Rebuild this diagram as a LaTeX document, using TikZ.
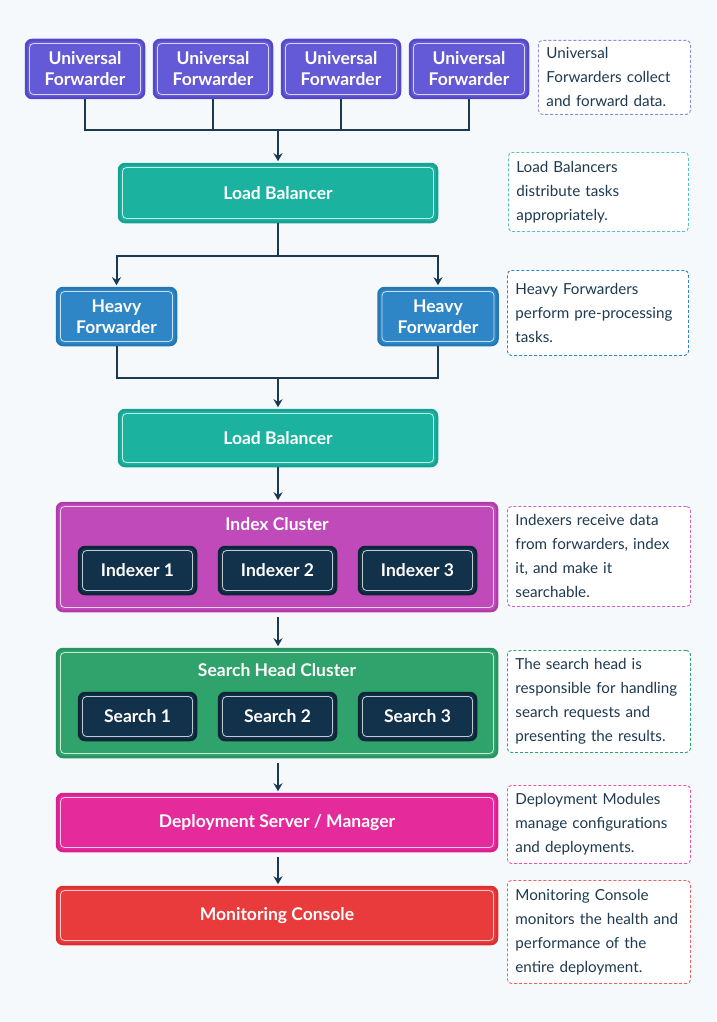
\documentclass[tikz,border=0pt]{standalone}
\usepackage{fontspec}
\setmainfont{Lato}
\usetikzlibrary{arrows.meta,positioning}
\hyphenpenalty=10000
\definecolor{pagebg}{HTML}{F5F9FC}
\definecolor{ink}{HTML}{1B3A52}
\definecolor{notetext}{HTML}{1E3A50}
\definecolor{univ}{HTML}{6459D6}
\definecolor{univline}{HTML}{5447C8}
\definecolor{balance}{HTML}{1BB2A0}
\definecolor{balanceline}{HTML}{15A291}
\definecolor{heavy}{HTML}{2E86C6}
\definecolor{heavyline}{HTML}{2578B6}
\definecolor{index}{HTML}{C04AB9}
\definecolor{indexline}{HTML}{B03CAA}
\definecolor{search}{HTML}{2FA36B}
\definecolor{searchline}{HTML}{26955F}
\definecolor{deploy}{HTML}{E52A9B}
\definecolor{deployline}{HTML}{D8208E}
\definecolor{monitor}{HTML}{E93B3B}
\definecolor{monitorline}{HTML}{DC3030}
\definecolor{worker}{HTML}{12314A}
\definecolor{workerline}{HTML}{0C2537}

\begin{document}
\begin{tikzpicture}[x=1pt, y=-1pt, >=Stealth,
  box/.style={rounded corners=6pt, line width=2.5pt, text=white,
    font=\fontsize{17.5}{21}\selectfont\bfseries, align=center,
    inner sep=0pt, minimum width=#1,
    path picture={\draw[white, opacity=0.75, line width=0.8pt, rounded corners=4pt]
      ([shift={(3.5pt,-3.5pt)}]path picture bounding box.north west) rectangle
      ([shift={(-3.5pt,3.5pt)}]path picture bounding box.south east);}},
  box/.default=118pt,
  note/.style={draw=#1, dash pattern=on 3pt off 2pt, line width=0.9pt, fill=white,
    rounded corners=4pt, text=notetext, align=left, anchor=north west,
    font=\fontsize{15.2}{24}\selectfont, inner xsep=8pt, inner ysep=0pt},
  title/.style={text=white, font=\fontsize{17.5}{21}\selectfont\bfseries},
  link/.style={draw=ink, line width=2pt},
  arrow/.style={link, shorten >=1.5pt, -{Stealth[length=8pt, width=9pt]}}]

  \fill[pagebg] (0,0) rectangle (716,1022);
  \useasboundingbox (0,0) rectangle (716,1022);

  % forwarders
  \foreach \n/\x in {1/85, 2/213, 3/341, 4/469}
    \node[box, fill=univ, draw=univline, minimum height=58pt] (uf\n) at (\x,69) {Universal\\Forwarder};
  \node[note=univ!70, text width=136pt, minimum height=74pt] (n1) at (538,40)
    {Universal\\Forwarders collect\\and forward data.};

  \node[box=318pt, fill=balance, draw=balanceline, minimum height=58pt] (lb1) at (278,193) {Load Balancer};
  \node[note=balance!75, text width=164pt, minimum height=79pt] (n2) at (508,152)
    {Load Balancers\\distribute tasks\\appropriately.};

  \node[box=119pt, fill=heavy, draw=heavyline, minimum height=57pt] (hf1) at (116.5,316.5) {Heavy\\Forwarder};
  \node[box=119pt, fill=heavy, draw=heavyline, minimum height=57pt] (hf2) at (438,316.5) {Heavy\\Forwarder};
  \node[note=heavy, text width=165pt, minimum height=85pt] (n3) at (507,270)
    {Heavy Forwarders\\perform pre-processing\\tasks.};

  \node[box=318pt, fill=balance, draw=balanceline, minimum height=56pt] (lb2) at (278,438) {Load Balancer};

  % clusters
  \node[box=440pt, fill=index, draw=indexline, minimum height=108pt] (idx) at (277,557) {};
  \node[title] (idxtitle) at (277,524) {Index Cluster};
  \foreach \n/\x in {1/137.5, 2/277.5, 3/417.5}
    \node[box=117pt, fill=worker, draw=workerline, minimum height=47pt] (ix\n) at (\x,570.5) {Indexer \n};
  \node[note=index!85, text width=167pt, minimum height=100pt] (n4) at (507,506)
    {Indexers receive data\\from forwarders, index\\it, and make it\\searchable.};

  \node[box=440pt, fill=search, draw=searchline, minimum height=108pt] (sh) at (277,703) {};
  \node[title] (shtitle) at (277,670) {Search Head Cluster};
  \foreach \n/\x in {1/137.5, 2/277.5, 3/417.5}
    \node[box=117pt, fill=worker, draw=workerline, minimum height=47pt] (sr\n) at (\x,716.5) {Search \n};
  \node[note=search, text width=167pt, minimum height=102pt] (n5) at (507,650)
    {The search head is\\responsible for handling\\search requests and\\presenting the results.};

  \node[box=440pt, fill=deploy, draw=deployline, minimum height=57pt] (dep) at (277,822.5) {Deployment Server / Manager};
  \node[note=deploy!80, text width=167pt, minimum height=78pt] (n6) at (507,785)
    {Deployment Modules\\manage configurations\\and deployments.};

  \node[box=440pt, fill=monitor, draw=monitorline, minimum height=57pt] (mc) at (277,915.5) {Monitoring Console};
  \node[note=monitor!80, text width=167pt, minimum height=103pt] (n7) at (507,880)
    {Monitoring Console\\monitors the health and\\performance of the\\entire deployment.};

  % connectors
  \coordinate (join1) at (278,130);
  \coordinate (split1) at (278,256);
  \coordinate (join2) at (278,378);
  \foreach \n in {1,...,4}
    \draw[link] (uf\n.south) |- (join1);
  \draw[arrow] (join1) -- (lb1.north);
  \draw[link] (lb1.south) -- (split1);
  \draw[arrow] (split1) -| (hf1.north);
  \draw[arrow] (split1) -| (hf2.north);
  \draw[link] (hf1.south) |- (join2);
  \draw[link] (hf2.south) |- (join2);
  \draw[arrow] (join2) -- (lb2.north);
  \draw[arrow] (lb2.south) -- (lb2.south |- idx.north);
  \draw[arrow, shorten <=5pt] (lb2.south |- idx.south) -- (lb2.south |- sh.north);
  \draw[arrow, shorten <=5pt] (lb2.south |- sh.south) -- (lb2.south |- dep.north);
  \draw[arrow, shorten <=5pt] (lb2.south |- dep.south) -- (lb2.south |- mc.north);
\end{tikzpicture}
\end{document}
